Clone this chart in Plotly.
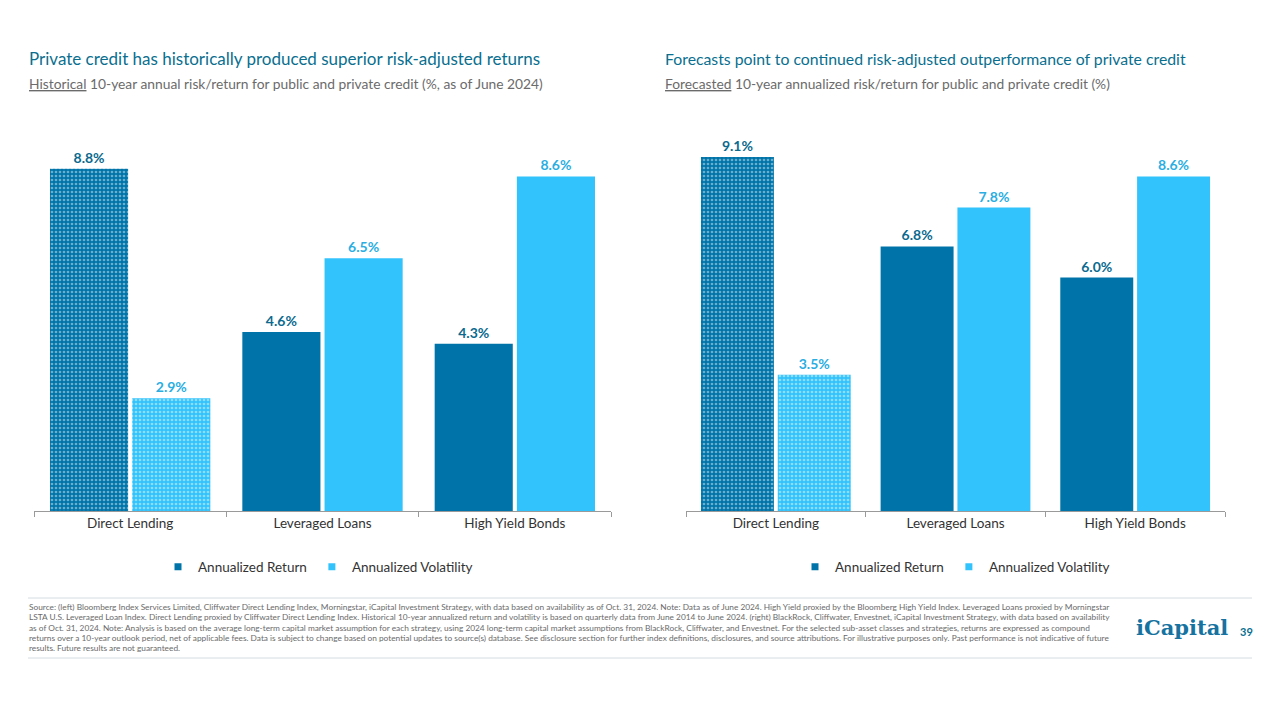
import plotly.graph_objects as go

categories = ["Direct Lending", "Leveraged Loans", "High Yield Bonds"]
hist_return = [8.8, 4.6, 4.3]
hist_vol = [2.9, 6.5, 8.6]
fcst_return = [9.1, 6.8, 6.0]
fcst_vol = [3.5, 7.8, 8.6]
series_names = ["Annualized Return", "Annualized Volatility"]

title_left = "Private credit has historically produced superior risk-adjusted returns"
sub_left = "<u>Historical</u> 10-year annual risk/return for public and private credit (%, as of June 2024)"
title_right = "Forecasts point to continued risk-adjusted outperformance of private credit"
sub_right = "<u>Forecasted</u> 10-year annualized risk/return for public and private credit (%)"

footnote_lines = [
    "Source: (left) Bloomberg Index Services Limited, Cliffwater Direct Lending Index, Morningstar, iCapital Investment Strategy, with data based on availability as of Oct. 31, 2024. Note: Data as of June 2024. High Yield proxied by the Bloomberg High Yield Index. Leveraged Loans proxied by Morningstar",
    "LSTA U.S. Leveraged Loan Index. Direct Lending proxied by Cliffwater Direct Lending Index. Historical 10-year annualized return and volatility is based on quarterly data from June 2014 to June 2024. (right) BlackRock, Cliffwater, Envestnet, iCapital Investment Strategy, with data based on availability",
    "as of Oct. 31, 2024. Note: Analysis is based on the average long-term capital market assumption for each strategy, using 2024 long-term capital market assumptions from BlackRock, Cliffwater, and Envestnet. For the selected sub-asset classes and strategies, returns are expressed as compound",
    "returns over a 10-year outlook period, net of applicable fees. Data is subject to change based on potential updates to source(s) database. See disclosure section for further index definitions, disclosures, and source attributions. For illustrative purposes only. Past performance is not indicative of future",
    "results. Future results are not guaranteed.",
]

RET = "#0074A8"
VOL = "#33C3FC"
RET_TXT = "#0B6A8E"
VOL_TXT = "#2AAEE2"
TITLE = "#0A6F8F"
FONT = "Lato"

W, H = 1280, 720
def px(x): return x / W
def py(y): return 1 - y / H

fig = go.Figure()

def add_pair(ret, vol, xa, ya, leg):
    fig.add_trace(go.Bar(
        x=categories, y=ret, name=series_names[0], xaxis=xa, yaxis=ya,
        marker=dict(color=RET, line=dict(width=0),
                    pattern=dict(shape=[".", "", ""], bgcolor=RET, fgcolor="#D2ECF8",
                                 size=4, solidity=0.35)),
        texttemplate="%{y:.1f}%", textposition="outside", cliponaxis=False,
        textfont=dict(family=FONT, size=14, color=RET_TXT, weight="bold"),
        showlegend=False))
    fig.add_trace(go.Bar(
        x=categories, y=vol, name=series_names[1], xaxis=xa, yaxis=ya,
        marker=dict(color=VOL, line=dict(width=0),
                    pattern=dict(shape=[".", "", ""], bgcolor=VOL, fgcolor="#E8F8FE",
                                 size=4, solidity=0.35)),
        texttemplate="%{y:.1f}%", textposition="outside", cliponaxis=False,
        textfont=dict(family=FONT, size=14, color=VOL_TXT, weight="bold"),
        showlegend=False))
    for nm, col in zip(series_names, [RET, VOL]):
        fig.add_trace(go.Scatter(
            x=[None], y=[None], mode="markers", name=nm, xaxis=xa, yaxis=ya,
            marker=dict(symbol="square", size=7, color=col), legend=leg))

add_pair(hist_return, hist_vol, "x", "y", "legend")
add_pair(fcst_return, fcst_vol, "x2", "y2", "legend2")

axis_common = dict(showline=True, linecolor="#9A9A9A", linewidth=1, ticks="outside",
                   tickson="boundaries", ticklen=5, tickcolor="#9A9A9A",
                   tickfont=dict(family=FONT, size=13.5, color="#333333"), showgrid=False,
                   fixedrange=True)
yaxis_common = dict(range=[0, 10], visible=False, showgrid=False, fixedrange=True)

fig.update_layout(
    width=W, height=H, margin=dict(l=0, r=0, t=0, b=0),
    paper_bgcolor="white", plot_bgcolor="white",
    font=dict(family=FONT, color="#333333"),
    barmode="group", bargap=0.145, bargroupgap=0.05,
    xaxis=dict(domain=[px(34), px(611)], anchor="y", **axis_common),
    yaxis=dict(domain=[py(511), py(122)], anchor="x", **yaxis_common),
    xaxis2=dict(domain=[px(686), px(1225)], anchor="y2", **axis_common),
    yaxis2=dict(domain=[py(511), py(122)], anchor="x2", **yaxis_common),
    legend=dict(orientation="h", x=px(318), xanchor="center", y=py(567), yanchor="middle",
                font=dict(family=FONT, size=13.5, color="#333333"), itemwidth=30,
                bgcolor="rgba(0,0,0,0)"),
    legend2=dict(orientation="h", x=px(955), xanchor="center", y=py(567), yanchor="middle",
                 font=dict(family=FONT, size=13.5, color="#333333"), itemwidth=30,
                 bgcolor="rgba(0,0,0,0)"),
)

ann = []
ann.append(dict(text=title_left, x=px(27), y=py(58), xanchor="left", yanchor="middle",
                font=dict(family=FONT, size=17, color=TITLE)))
ann.append(dict(text=sub_left, x=px(27), y=py(83), xanchor="left", yanchor="middle",
                font=dict(family=FONT, size=13.8, color="#6B6B6B")))
ann.append(dict(text=title_right, x=px(663), y=py(58), xanchor="left", yanchor="middle",
                font=dict(family=FONT, size=15.8, color=TITLE)))
ann.append(dict(text=sub_right, x=px(663), y=py(83), xanchor="left", yanchor="middle",
                font=dict(family=FONT, size=13.8, color="#6B6B6B")))
for i, line in enumerate(footnote_lines):
    ann.append(dict(text=line, x=px(27), y=py(607 + i * 10.3), xanchor="left", yanchor="middle",
                    font=dict(family=FONT, size=8.3, color="#6A6A6A")))
ann.append(dict(text="<b>iCapital</b>", x=px(1134), y=py(627), xanchor="left", yanchor="middle",
                font=dict(family="DejaVu Serif", size=21, color="#16729F")))
ann.append(dict(text="<b>39</b>", x=px(1238), y=py(631), xanchor="left", yanchor="middle",
                font=dict(family=FONT, size=11, color="#0A6F8F")))
for a in ann:
    a.update(xref="paper", yref="paper", showarrow=False)
fig.update_layout(annotations=ann)

fig.update_layout(shapes=[
    dict(type="line", xref="paper", yref="paper", x0=px(28), x1=px(1252), y0=py(598), y1=py(598),
         line=dict(color="#D5DCE0", width=1)),
    dict(type="line", xref="paper", yref="paper", x0=px(28), x1=px(1252), y0=py(658), y1=py(658),
         line=dict(color="#D5DCE0", width=1)),
])

fig.write_html("out.html", config={"displayModeBar": False},
               post_script="document.body.style.margin='0';")
